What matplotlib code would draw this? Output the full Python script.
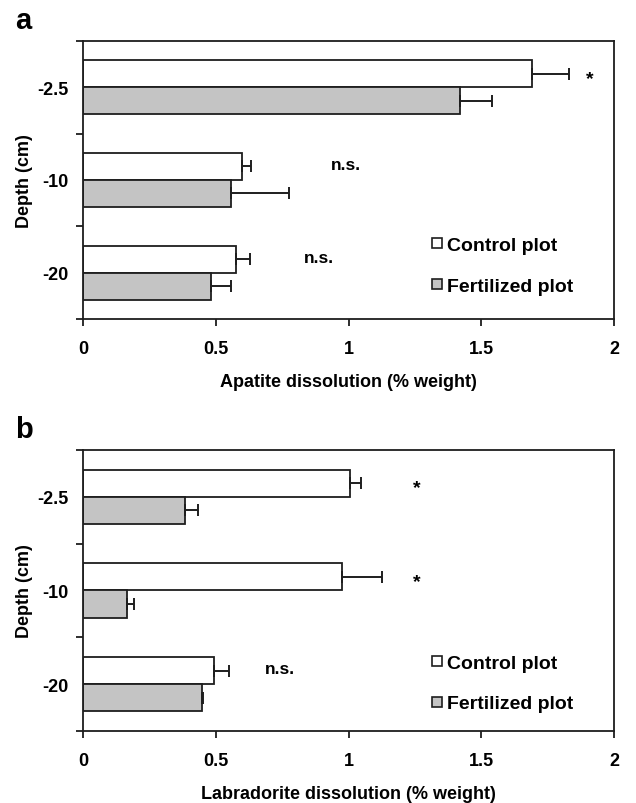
import numpy as np
import matplotlib
matplotlib.use("Agg")
import matplotlib.pyplot as plt
from matplotlib.lines import Line2D

plt.rcParams['font.family'] = ['Liberation Sans', 'DejaVu Sans']
plt.rcParams['font.weight'] = 'bold'

depths = ["-2.5", "-10", "-20"]

#panel a: apatite
apatite_control = [1.69, 0.60, 0.577]
apatite_control_err = [0.14, 0.034, 0.053]
apatite_fert = [1.42, 0.556, 0.482]
apatite_fert_err = [0.12, 0.218, 0.075]
apatite_sig = ["*", "n.s.", "n.s."]
apatite_sig_x = [1.91, 0.99, 0.89]

#panel b: labradorite
labr_control = [1.007, 0.975, 0.494]
labr_control_err = [0.041, 0.15, 0.054]
labr_fert = [0.384, 0.165, 0.448]
labr_fert_err = [0.049, 0.028, 0.004]
labr_sig = ["*", "*", "n.s."]
labr_sig_x = [1.258, 1.258, 0.742]

fig = plt.figure(figsize=(6.36, 8.04), dpi=100)
ax_a = fig.add_axes([0.1305, 0.602, 0.835, 0.346])
ax_b = fig.add_axes([0.1305, 0.0896, 0.835, 0.3495])

bar_h = 0.29
ypos = np.arange(len(depths))
ink = "#1e1e1e"

def draw_panel(ax, ctrl, ctrl_err, fert, fert_err, sig, sig_x, xlabel):
	ax.barh(ypos - bar_h/2, ctrl, height=bar_h, color="white", edgecolor=ink, linewidth=1.3,
		xerr=[np.zeros(len(ctrl)), ctrl_err], error_kw=dict(ecolor=ink, elinewidth=1.4, capsize=4.5, capthick=1.4))
	ax.barh(ypos + bar_h/2, fert, height=bar_h, color="#c4c4c4", edgecolor=ink, linewidth=1.3,
		xerr=[np.zeros(len(fert)), fert_err], error_kw=dict(ecolor=ink, elinewidth=1.4, capsize=4.5, capthick=1.4))
	for i in range(len(sig)):
		if sig[i] == "*":
			ax.text(sig_x[i], ypos[i] - bar_h/2 + 0.05, sig[i], ha="center", va="center", fontsize=14, fontweight="bold")
		else:
			ax.text(sig_x[i], ypos[i] - bar_h/2 - 0.02, sig[i], ha="center", va="center", fontsize=12.5, fontweight="bold")
	ax.set_xlim(0, 2)
	ax.set_ylim(2.5, -0.5)
	ax.set_xticks([0, 0.5, 1, 1.5, 2])
	ax.set_xticklabels(["0", "0.5", "1", "1.5", "2"], fontsize=13, fontweight="bold")
	ax.set_yticks([-0.5, 0.5, 1.5, 2.5])
	ax.set_yticklabels([])
	ax.set_yticks(ypos, minor=True)
	ax.set_yticklabels(depths, minor=True, fontsize=13, fontweight="bold")
	ax.tick_params(axis="y", which="minor", length=0, pad=10.5)
	ax.tick_params(axis="both", which="major", length=5, width=1.3, direction="out", color=ink)
	ax.tick_params(axis="x", pad=10)
	for s in ax.spines.values():
		s.set_linewidth(1.3)
		s.set_color(ink)
	ax.set_xlabel(xlabel, fontsize=13, fontweight="bold", labelpad=12)
	ax.set_ylabel("Depth (cm)", fontsize=13, fontweight="bold", labelpad=3)
	handles = [Line2D([], [], marker="s", linestyle="none", markersize=7.5, markerfacecolor="white", markeredgecolor=ink, markeredgewidth=1.2),
		Line2D([], [], marker="s", linestyle="none", markersize=7.5, markerfacecolor="#c4c4c4", markeredgecolor=ink, markeredgewidth=1.2)]
	return handles

h = draw_panel(ax_a, apatite_control, apatite_control_err, apatite_fert, apatite_fert_err, apatite_sig, apatite_sig_x,
	"Apatite dissolution (% weight)")
ax_a.legend(h, ["Control plot", "Fertilized plot"], loc="center left", bbox_to_anchor=(0.633, 0.193),
	frameon=False, handletextpad=0.05, handlelength=1.0, labelspacing=1.2, prop=dict(size=14, weight="bold"), borderaxespad=0)
h = draw_panel(ax_b, labr_control, labr_control_err, labr_fert, labr_fert_err, labr_sig, labr_sig_x,
	"Labradorite dissolution (% weight)")
ax_b.legend(h, ["Control plot", "Fertilized plot"], loc="center left", bbox_to_anchor=(0.633, 0.170),
	frameon=False, handletextpad=0.05, handlelength=1.0, labelspacing=1.2, prop=dict(size=14, weight="bold"), borderaxespad=0)

fig.text(15/636, 1 - 29/804, "a", fontsize=21, fontweight="bold", ha="left", va="baseline")
fig.text(15/636, 1 - 438/804, "b", fontsize=21, fontweight="bold", ha="left", va="baseline")

fig.savefig("out.png", dpi=100)
